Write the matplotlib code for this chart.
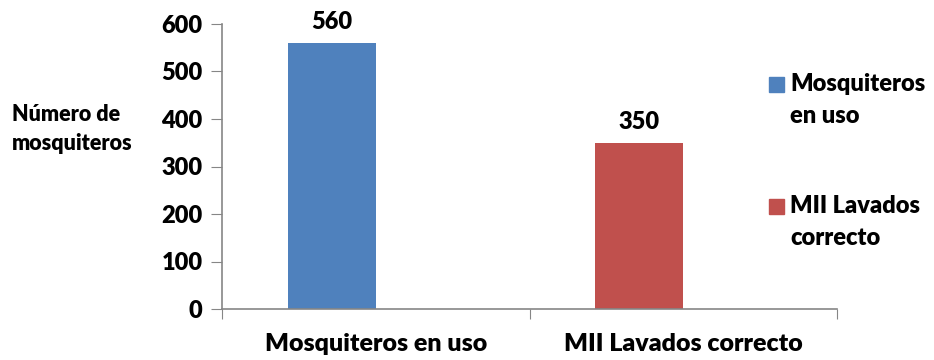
import matplotlib.pyplot as plt
from matplotlib.patches import Rectangle

categorias = ["Mosquiteros en uso", "MII Lavados correcto"]
valores = [560, 350]
series = ["Mosquiteros\nen uso", "MII Lavados\ncorrecto"]
colores = ["#4F81BD", "#C0504D"]

plt.rcParams['font.family'] = ['Lato', 'DejaVu Sans']
peso = 'heavy'

fig = plt.figure(figsize=(9.34, 3.6), dpi=100)
ax = fig.add_axes([222 / 934, 1 - 309 / 360, 615 / 934, 285 / 360])

ancho = 0.286
for i, v in enumerate(valores):
    ax.bar(i + 0.5 - ancho, v, width=ancho, align='edge', color=colores[i])
    ax.annotate(str(v), (i + 0.5 - ancho / 2, v), xytext=(0, 7),
                textcoords='offset points', ha='center', va='bottom',
                fontsize=17, fontweight=peso)

ax.set_xlim(0, 2)
ax.set_ylim(0, 600)
ax.set_yticks(range(0, 601, 100))
ax.set_yticklabels([str(t) for t in range(0, 601, 100)], fontsize=17, fontweight=peso)
ax.set_xticks([0, 1, 2])
ax.set_xticklabels([])
ax.set_xticks([0.5, 1.5], minor=True)
ax.set_xticklabels(categorias, minor=True, fontsize=18, fontweight=peso)
ax.tick_params(axis='x', which='minor', length=0, pad=17)
ax.tick_params(axis='x', which='major', length=7, color='#868686', direction='out')
ax.tick_params(axis='y', length=8, color='#868686', pad=6)

for s in ['top', 'right']:
    ax.spines[s].set_visible(False)
for s in ['left', 'bottom']:
    ax.spines[s].set_color('#868686')
    ax.spines[s].set_linewidth(1.2)

fig.text(12 / 934, 1 - 104 / 360, "Número de\nmosquiteros", ha='left', va='top',
         fontsize=15.5, fontweight=peso, linespacing=1.5)

# leyenda a la derecha
pos_y = [85, 207]
for c, txt, y in zip(colores, series, pos_y):
    fig.patches.append(Rectangle((769 / 934, 1 - (y + 7) / 360), 15 / 934, 15 / 360,
                                 transform=fig.transFigure, color=c))
    fig.text(790 / 934, 1 - (y - 12) / 360, txt, ha='left', va='top',
             fontsize=17, fontweight=peso, linespacing=1.55)

fig.savefig("out.png", dpi=100)
